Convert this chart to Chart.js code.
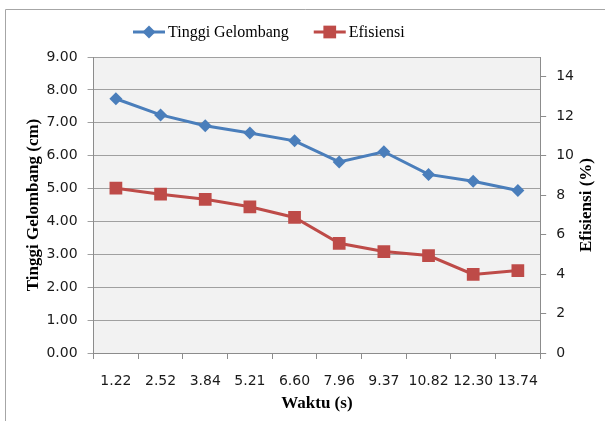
<!DOCTYPE html>
<html>
<head>
<meta charset="utf-8">
<title>Tinggi Gelombang dan Efisiensi</title>
<script src="https://cdn.jsdelivr.net/npm/chart.js@4.4.1/dist/chart.umd.min.js"></script>
<style>
  html, body { margin: 0; padding: 0; background: #ffffff; }
  #wrap { width: 605px; height: 421px; }
</style>
</head>
<body>
<div id="wrap"><canvas id="gelombangChart" width="605" height="421"></canvas></div>
<script>

// Data

const waktu = ['1.22', '2.52', '3.84', '5.21', '6.60', '7.96', '9.37', '10.82', '12.30', '13.74'];
const tinggiGelombang = [7.73, 7.24, 6.91, 6.69, 6.45, 5.81, 6.12, 5.43, 5.22, 4.94];
const efisiensi = [8.35, 8.05, 7.79, 7.41, 6.87, 5.56, 5.14, 4.94, 3.98, 4.18];
const efisiensiTicks = [0, 2, 4, 6, 8, 10, 12, 14];

const blue = '#4a7ebb';
const red = '#be4b48';
const tickFont = { family: 'DejaVu Sans', size: 14 };
const titleFont = { family: 'Liberation Serif', size: 17, weight: 'bold' };

// Frame, plot background, legend and right title

const decor =
{
  id: 'decor',
  beforeDraw(chart)
  {
    const ctx = chart.ctx;
    const a = chart.chartArea;
    ctx.save();
    ctx.strokeStyle = '#a6a6a6';
    ctx.lineWidth = 1;
    ctx.beginPath();
    ctx.moveTo(5.5, chart.height);
    ctx.lineTo(5.5, 9.5);
    ctx.lineTo(chart.width, 9.5);
    ctx.stroke();
    ctx.fillStyle = '#f2f2f2';
    ctx.fillRect(a.left, a.top, a.right - a.left, a.bottom - a.top);
    ctx.restore();
  },
  afterDraw(chart)
  {
    const ctx = chart.ctx;
    ctx.save();

    // legend
    ctx.font = '16px "Liberation Serif"';
    ctx.textBaseline = 'middle';
    let x = 133;
    const y = 32;
    chart.data.datasets.forEach(ds =>
    {
      ctx.strokeStyle = ds.borderColor;
      ctx.lineWidth = 3;
      ctx.beginPath();
      ctx.moveTo(x, y);
      ctx.lineTo(x + 32, y);
      ctx.stroke();
      ctx.fillStyle = ds.backgroundColor;
      Chart.helpers.drawPoint(ctx, { pointStyle: ds.pointStyle, radius: ds.pointRadius, rotation: 0, borderWidth: 0 }, x + 16, y);
      ctx.fillStyle = '#000000';
      ctx.fillText(ds.label, x + 35, y + 1);
      x += 35 + ctx.measureText(ds.label).width + 25;
    });

    // right axis title, reading upwards like the left one
    const s = chart.scales.y1;
    ctx.font = 'bold 17px "Liberation Serif"';
    ctx.textAlign = 'center';
    ctx.translate(chart.width - 18, (s.top + s.bottom) / 2);
    ctx.rotate(-Math.PI / 2);
    ctx.fillText('Efisiensi (%)', 0, 0);
    ctx.restore();
  }
};

new Chart(document.getElementById('gelombangChart'),
{
  type: 'line',
  data:
  {
    labels: waktu,
    datasets:
    [
      {
        label: 'Tinggi Gelombang',
        data: tinggiGelombang,
        yAxisID: 'y',
        borderColor: blue,
        backgroundColor: blue,
        borderWidth: 3,
        pointStyle: 'rectRot',
        pointRadius: 6.5,
        pointBorderWidth: 0,
        tension: 0
      },
      {
        label: 'Efisiensi',
        data: efisiensi,
        yAxisID: 'y1',
        borderColor: red,
        backgroundColor: red,
        borderWidth: 3,
        pointStyle: 'rect',
        pointRadius: 9,
        pointBorderWidth: 0,
        tension: 0
      }
    ]
  },
  options:
  {
    responsive: false,
    animation: false,
    layout: { padding: { left: 19, right: 21, top: 57, bottom: 3 } },
    plugins:
    {
      legend: { display: false },
      tooltip: { enabled: false }
    },
    scales:
    {
      x:
      {
        offset: true,
        afterFit: scale => { scale.height = 65; },
        grid: { display: true, drawOnChartArea: false, offset: true, tickLength: 6, color: '#8c8c8c' },
        border: { color: '#8c8c8c' },
        ticks: { color: '#1a1a1a', font: tickFont, padding: 14, maxRotation: 0, autoSkip: false },
        title: { display: true, text: 'Waktu (s)', color: '#000000', font: titleFont, padding: { top: 4, bottom: 4 } }
      },
      y:
      {
        min: 0,
        max: 9,
        ticks: { stepSize: 1, color: '#1a1a1a', font: tickFont, padding: 10, callback: v => v.toFixed(2) },
        grid: { color: '#a0a0a0', tickLength: 6 },
        border: { color: '#8c8c8c' },
        title: { display: true, text: 'Tinggi Gelombang (cm)', color: '#000000', font: titleFont, padding: { top: 4, bottom: -7 } }
      },
      y1:
      {
        position: 'right',
        min: 0,
        max: 15,
        afterBuildTicks: scale => { scale.ticks = efisiensiTicks.map(v => ({ value: v })); },
        ticks: { color: '#1a1a1a', font: tickFont, padding: 10 },
        grid: { drawOnChartArea: false, tickLength: 6, color: '#8c8c8c' },
        border: { color: '#8c8c8c' }
      }
    }
  },
  plugins: [decor]
});
</script>
</body>
</html>
